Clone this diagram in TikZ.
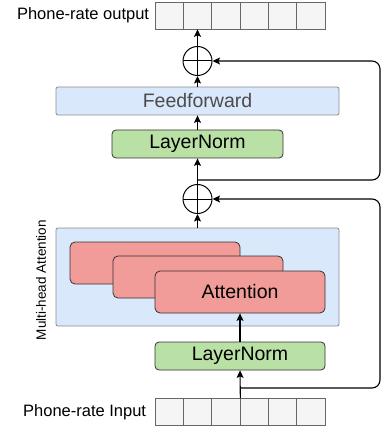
\documentclass[tikz,border=0pt]{standalone}
\usepackage{fontspec}
\setmainfont{Liberation Sans}
\usepackage{tikz}
\usetikzlibrary{arrows.meta,%
                positioning}

\definecolor{ffblue}{HTML}{DAE8FC}
\definecolor{lngreen}{HTML}{B9E0A5}
\definecolor{attred}{HTML}{F19C99}
\definecolor{cellgray}{HTML}{F5F5F5}

\begin{document}
\begin{tikzpicture}[x=1pt, y=-1pt, >={Stealth[length=7.5pt,width=7pt,inset=1.5pt]}, line width=1.1pt]
    \tikzstyle{cell}=[rectangle, draw=black!60, line width=0.7pt, fill=cellgray, minimum width=28.33pt, minimum height=27pt, inner sep=0pt]
    \tikzstyle{lab}=[inner sep=0pt, font=\fontsize{16.5}{19}\selectfont]
    \tikzstyle{blk}=[rectangle, draw=black!45, line width=0.8pt, fill=ffblue, rounded corners=2pt, inner sep=0pt]
    \tikzstyle{norm}=[rectangle, draw=black!80, line width=0.8pt, fill=lngreen, rounded corners=4pt, minimum height=28pt, inner sep=0pt, font=\fontsize{19.5}{22}\selectfont]
    \tikzstyle{att}=[rectangle, draw=black!80, line width=0.8pt, fill=attred, rounded corners=5pt, minimum width=170pt, minimum height=42pt, inner sep=0pt, font=\fontsize{19.5}{22}\selectfont]
    \tikzstyle{plus}=[circle, draw, line width=1pt, minimum size=29pt, inner sep=0pt,
        path picture={\draw[line width=1pt] (path picture bounding box.north) -- (path picture bounding box.south)
                      (path picture bounding box.west) -- (path picture bounding box.east);}]

    \useasboundingbox (0,0) rectangle (382,430);

    % output cells
    \node[cell] (o1) at (169.17,15.5) {};
    \node[cell] (o2) at (197.50,15.5) {};
    \node[cell] (o3) at (225.83,15.5) {};
    \node[cell] (o4) at (254.17,15.5) {};
    \node[cell] (o5) at (282.50,15.5) {};
    \node[cell] (o6) at (310.83,15.5) {};
    \node[lab, left=5pt of o1] (outlab) {Phone-rate output};

    % input cells
    \node[cell] (i1) at (169.17,412) {};
    \node[cell] (i2) at (197.50,412) {};
    \node[cell] (i3) at (225.83,412) {};
    \node[cell] (i4) at (254.17,412) {};
    \node[cell] (i5) at (282.50,412) {};
    \node[cell] (i6) at (310.83,412) {};
    \node[lab, left=8pt of i1] (inlab) {Phone-rate Input};

    \node[plus] (plus1) at (197.5,61) {};
    \node[blk, minimum width=283pt, minimum height=28pt, text=black!70,
          font=\fontsize{19.5}{22}\selectfont] (ff) at (197.5,101) {Feedforward};
    \node[norm, minimum width=171pt] (ln1) at (197.5,144) {LayerNorm};
    \node[plus] (plus2) at (197.5,199) {};

    \node[blk, minimum width=283pt, minimum height=98pt] (mha) at (197.5,277) {};
    \node[lab, rotate=90, font=\fontsize{13.5}{16}\selectfont] (mhalab) at (41,280) {Multi-head Attention};
    \node[att] (att1) at (155,263) {};
    \node[att] (att2) at (198,277) {};
    \node[att] (att3) at (240,292) {Attention};
    \node[norm, minimum width=170pt] (ln2) at (240,356) {LayerNorm};

    \coordinate (s1) at (240,388);
    \coordinate (s2) at (197.5,180);

    \draw[->] (i3.north east) -- (ln2.south);
    \draw[->] (ln2.north) -- (att3.south);
    \draw[->] (mha.north) -- (plus2.south);
    \draw[->] (plus2.north) -- (ln1.south);
    \draw[->] (ln1.north) -- (ff.south);
    \draw[->] (ff.north) -- (plus1.south);
    \draw[->] (plus1.north) -- (o2.south);

    % residual paths
    \draw[->, rounded corners=8pt] (s1) -| (380,300) |- (plus2.east);
    \draw[->, rounded corners=8pt] (s2) -| (380,120) |- (plus1.east);

\end{tikzpicture}
\end{document}
